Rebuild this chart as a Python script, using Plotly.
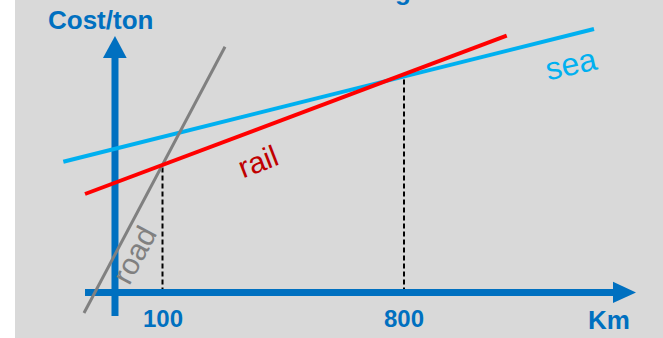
import plotly.graph_objects as go

# ---- data (schematic: distance in km, cost in arbitrary units) ----
road_km = [-127.5, 281.2]
road_cost = [-20.5, 245.8]
rail_km = [-124.6, 1097.7]
rail_cost = [98.5, 256.8]
sea_km = [-187.5, 1350.7]
sea_cost = [130.8, 263.5]

tick_km = [100, 800]
tick_labels = ["100", "800"]

# axis geometry (schematic axes drawn as data)
yaxis_km = -37.7
yaxis_cost = [-23.5, 234.5]
yarrow_km = [-72.5, -37.7, -3.8, -72.5]
yarrow_cost = [234.5, 256.5, 234.5, 234.5]
xaxis_km = [-124.6, 1405.8]
xarrow_km = [1405.8, 1472.5, 1405.8, 1405.8]
xarrow_cost = [10.8, 0, -10.5, 10.8]

BLUE = "#0070C0"
FONT = "Liberation Sans, Arial, sans-serif"


def interp(x, xs, ys):
    return ys[0] + (ys[1] - ys[0]) * (x - xs[0]) / (xs[1] - xs[0])


fig = go.Figure()

# dashed drop lines from road/rail and rail/sea intersections
for k in tick_km:
    fig.add_trace(go.Scatter(x=[k, k], y=[0, interp(k, rail_km, rail_cost)], mode="lines",
                             line=dict(color="black", width=2, dash="5px,3px"),
                             hoverinfo="skip", showlegend=False))

# axes
fig.add_trace(go.Scatter(x=xaxis_km, y=[0, 0], mode="lines",
                         line=dict(color=BLUE, width=7), hoverinfo="skip", showlegend=False))
fig.add_trace(go.Scatter(x=xarrow_km, y=xarrow_cost, mode="lines", fill="toself",
                         fillcolor=BLUE, line=dict(color=BLUE, width=0),
                         hoverinfo="skip", showlegend=False))
fig.add_trace(go.Scatter(x=[yaxis_km, yaxis_km], y=yaxis_cost, mode="lines",
                         line=dict(color=BLUE, width=7), hoverinfo="skip", showlegend=False))
fig.add_trace(go.Scatter(x=yarrow_km, y=yarrow_cost, mode="lines", fill="toself",
                         fillcolor=BLUE, line=dict(color=BLUE, width=0),
                         hoverinfo="skip", showlegend=False))

# cost lines
fig.add_trace(go.Scatter(x=sea_km, y=sea_cost, mode="lines",
                         line=dict(color="#00B0F0", width=4), showlegend=False))
fig.add_trace(go.Scatter(x=road_km, y=road_cost, mode="lines",
                         line=dict(color="#808080", width=3), showlegend=False))
fig.add_trace(go.Scatter(x=rail_km, y=rail_cost, mode="lines",
                         line=dict(color="#FF0000", width=4), showlegend=False))

annotations = []
for k, t in zip(tick_km, tick_labels):
    annotations.append(dict(x=k, y=-26, text=t, showarrow=False,
                            font=dict(family=FONT, size=24, color=BLUE, weight="bold")))
annotations += [
    dict(x=1394, y=-27.5, text="Km", showarrow=False,
         font=dict(family=FONT, size=26, color=BLUE, weight="bold")),
    dict(x=-81, y=272.5, text="Cost/ton", showarrow=False,
         font=dict(family=FONT, size=26, color=BLUE, weight="bold")),
    dict(x=376.8, y=131, text="rail", showarrow=False, textangle=-21,
         font=dict(family=FONT, size=30, color="#C00000")),
    dict(x=1284, y=228.5, text="sea", showarrow=False, textangle=-13,
         font=dict(family=FONT, size=32, color="#00B0F0")),
    dict(x=16, y=37.5, text="road", showarrow=False, textangle=-62,
         font=dict(family=FONT, size=30, color="#808080")),
    dict(x=403 / 663, y=1, xref="paper", yref="paper", yanchor="bottom", yshift=-8,
         text="g", showarrow=False,
         font=dict(family=FONT, size=26, color=BLUE, weight="bold")),
]

fig.update_layout(
    width=663, height=338,
    margin=dict(l=0, r=0, t=0, b=0),
    paper_bgcolor="white", plot_bgcolor="rgba(0,0,0,0)",
    shapes=[dict(type="rect", xref="paper", yref="paper", x0=15 / 663, x1=1, y0=0, y1=1,
                 fillcolor="#D9D9D9", line=dict(width=0), layer="below")],
    annotations=annotations,
    xaxis=dict(range=[-371.0, 1550.7], visible=False, fixedrange=True),
    yaxis=dict(range=[-45.5, 292.5], visible=False, fixedrange=True),
)

fig.write_html("out.html")
